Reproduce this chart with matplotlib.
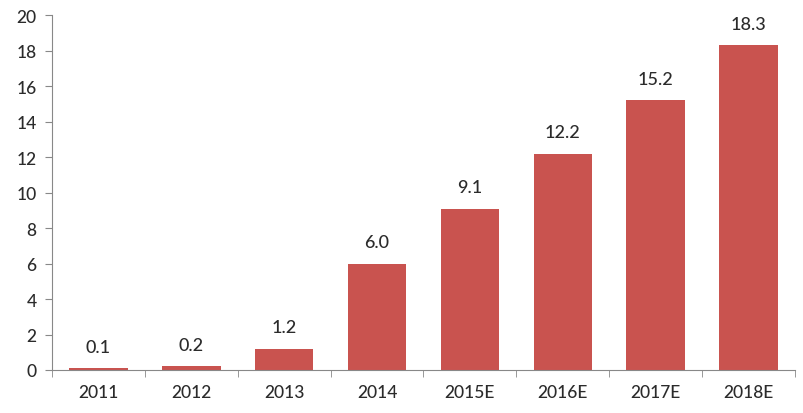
import matplotlib.pyplot as plt
import numpy as np

years = ['2011', '2012', '2013', '2014', '2015E', '2016E', '2017E', '2018E']
values = [0.1, 0.2, 1.2, 6.0, 9.1, 12.2, 15.2, 18.3]
labels = ['0.1', '0.2', '1.2', '6.0', '9.1', '12.2', '15.2', '18.3']

plt.rcParams['font.family'] = ['Lato', 'DejaVu Sans']

fig = plt.figure(figsize=(8.04, 4.14), dpi=100)
ax = fig.add_axes([0.0647, 0.1039, 0.924, 0.857])

x = np.arange(len(years))
bars = ax.bar(x, values, width=0.63, color='#C9534F')

for xi, v, lab in zip(x, values, labels):
    ax.text(xi, v + 0.75, lab, ha='center', va='bottom', fontsize=13,
            color='#2b2b2b', fontweight='medium')

ax.set_xlim(-0.5, len(years) - 0.5)
ax.set_ylim(0, 20)
ax.set_yticks(range(0, 21, 2))
ax.set_xticks(x)
ax.set_xticklabels(years)
ax.set_xticks(np.arange(-0.5, len(years), 1), minor=True)
ax.tick_params(axis='x', which='major', length=0, pad=10, labelsize=12.5, colors='#2b2b2b')
ax.tick_params(axis='x', which='minor', length=5, color='#888888', direction='out')
ax.tick_params(axis='y', length=5, color='#888888', labelsize=12.5, labelcolor='#2b2b2b', pad=6)
for t in ax.get_xticklabels() + ax.get_yticklabels():
    t.set_fontweight('medium')

for s in ['top', 'right']:
    ax.spines[s].set_visible(False)
for s in ['left', 'bottom']:
    ax.spines[s].set_color('#888888')

fig.savefig('out.png', dpi=100)
